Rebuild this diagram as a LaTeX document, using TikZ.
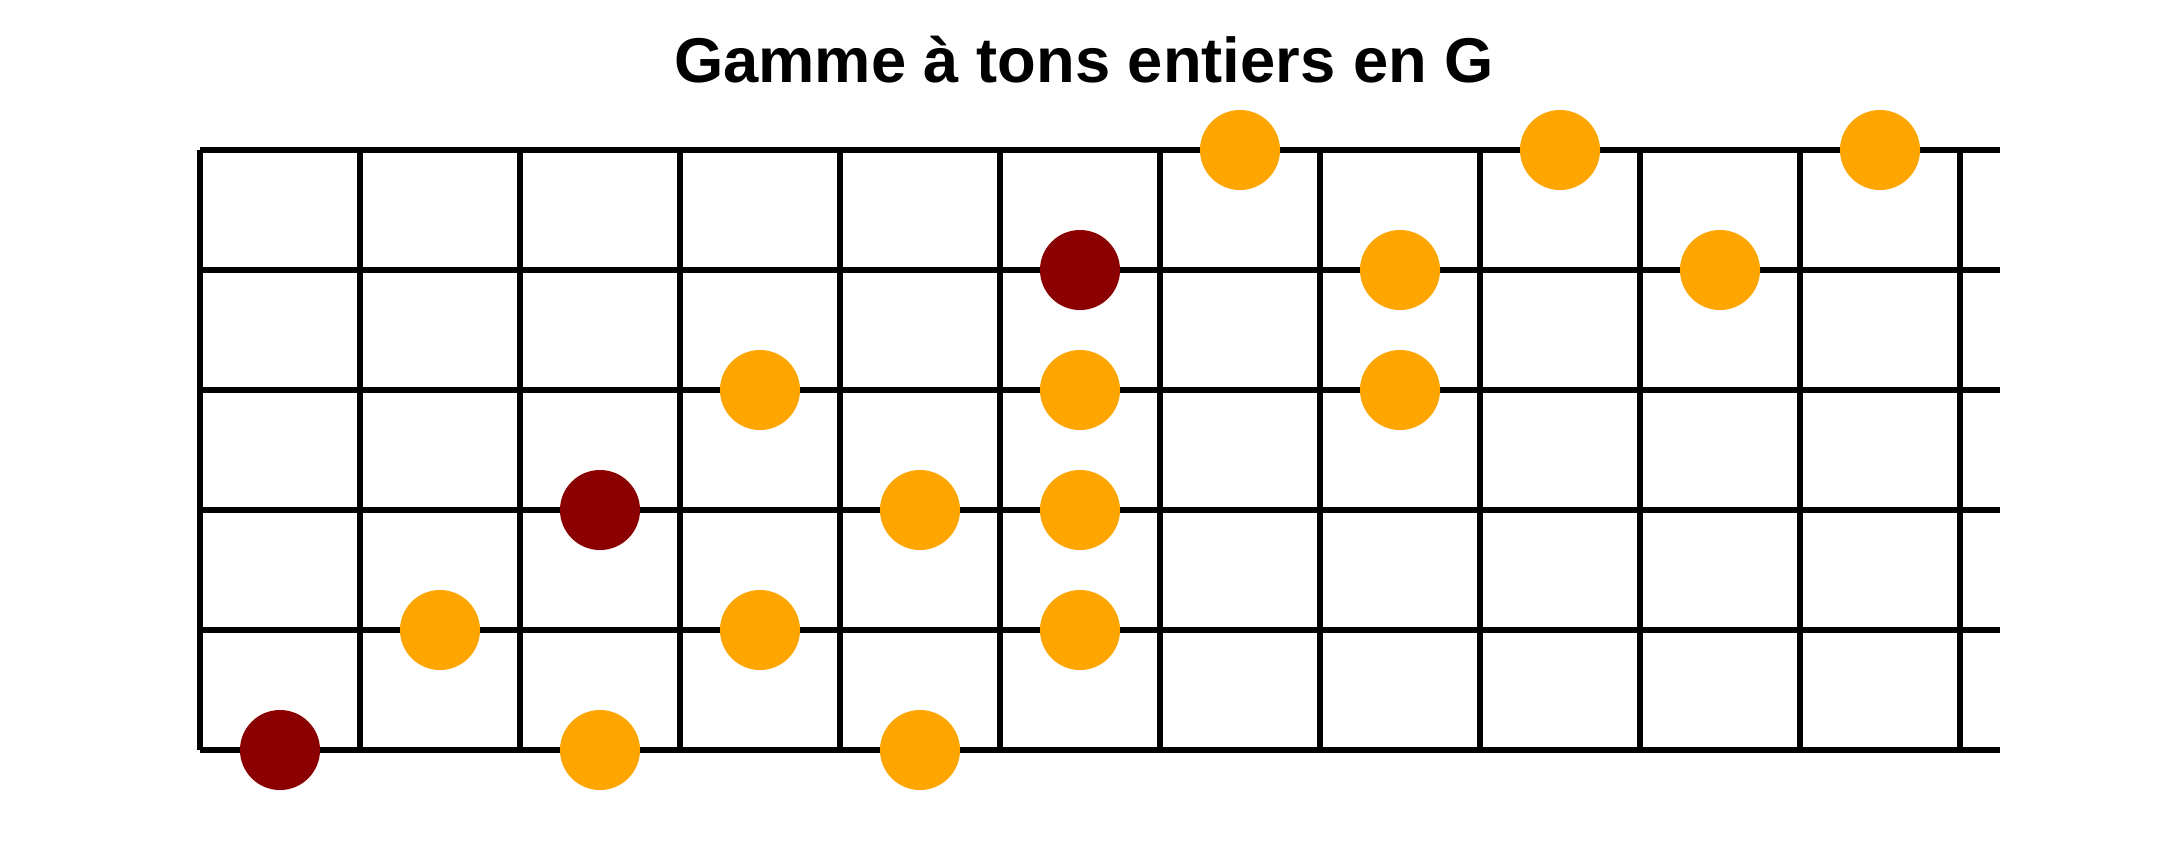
\documentclass[tikz,border=0pt]{standalone}
\usepackage{fontspec}
\setmainfont{Liberation Sans}
\definecolor{noteorange}{HTML}{FFA500}
\definecolor{rootred}{HTML}{8B0000}
\tikzstyle{string} = [draw, line width=0.055cm]
\tikzstyle{fret} = [draw, line width=0.055cm]
\tikzstyle{note} = [
        circle, fill=noteorange,
        minimum size=0.8cm, inner sep=0pt
    ]
\tikzstyle{root} = [note, fill=rootred]

\begin{document}
\begin{tikzpicture}[x=0.01cm, y=-0.01cm]
    \useasboundingbox (0,0) rectangle (2160,850);
    \fill [white] (0,0) rectangle (2160,850);
    \node [font=\bfseries\fontsize{18}{22}\selectfont, anchor=base] (title) at (1084,82) {Gamme à tons entiers en G};

    % strings and frets
    \foreach \s in {0,...,5}
        \path [string] (200,{150+120*\s}) -- (2000,{150+120*\s});
    \foreach \f in {0,...,11}
        \path [fret] ({200+160*\f},150) -- ({200+160*\f},750);

    % notes of the scale
    \foreach \s/\c in {0/6,0/8,0/10,1/7,1/9,2/3,2/5,2/7,3/4,3/5,4/1,4/3,4/5,5/2,5/4}
        \node [note] (n\s-\c) at ({280+160*\c},{150+120*\s}) {};
    % roots
    \foreach \s/\c in {1/5,3/2,5/0}
        \node [root] (r\s-\c) at ({280+160*\c},{150+120*\s}) {};
\end{tikzpicture}
\end{document}
